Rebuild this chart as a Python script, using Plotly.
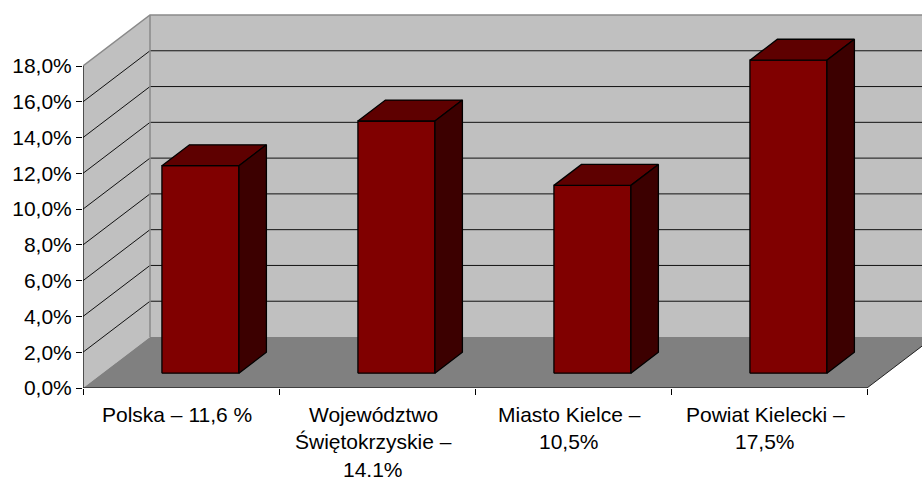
import plotly.graph_objects as go

# ---- data ----
category_lines = [
    ["Polska – 11,6 %"],
    ["Województwo", "Świętokrzyskie –", "14.1%"],
    ["Miasto Kielce –", "10,5%"],
    ["Powiat Kielecki –", "17,5%"],
]
values = [11.6, 14.1, 10.5, 17.5]
y_ticks = [0, 2, 4, 6, 8, 10, 12, 14, 16, 18]
y_tick_labels = ["0,0%", "2,0%", "4,0%", "6,0%", "8,0%", "10,0%", "12,0%", "14,0%", "16,0%", "18,0%"]

# ---- pseudo-3D geometry (in axis units) ----
N = len(values)
YMAX = 18
PX_PER_CAT = 196.0
PX_PER_PCT = 17.889
DX = 67 / PX_PER_CAT        # depth shift in category units
DY = 51 / PX_PER_PCT        # depth shift in percent units
F0, F1 = 0.29, 0.70         # bar front / back depth fractions
HW = 77 / PX_PER_CAT / 2    # bar half-width

WALL = "#C0C0C0"
FLOOR = "#808080"
FRONT = "#800000"
TOP = "#5E0000"
SIDE = "#3C0000"


def P(x, v, d):
    return x + d * DX, v + d * DY


fig = go.Figure()


def poly(pts, fill, lc="black", lw=1.0):
    xs = [p[0] for p in pts] + [pts[0][0]]
    ys = [p[1] for p in pts] + [pts[0][1]]
    fig.add_trace(go.Scatter(x=xs, y=ys, mode="lines", fill="toself",
                             fillcolor=fill, line=dict(color=lc, width=lw),
                             hoverinfo="skip", showlegend=False))


def seg(pts, lc="black", lw=1.0):
    fig.add_trace(go.Scatter(x=[p[0] for p in pts], y=[p[1] for p in pts],
                             mode="lines", line=dict(color=lc, width=lw),
                             hoverinfo="skip", showlegend=False))


# walls
poly([P(0, 0, 1), P(N, 0, 1), P(N, YMAX, 1), P(0, YMAX, 1)], WALL, lc="rgba(0,0,0,0)", lw=0)
poly([P(0, 0, 0), P(0, 0, 1), P(0, YMAX, 1), P(0, YMAX, 0)], WALL, lc="rgba(0,0,0,0)", lw=0)

# gridlines
for t in y_ticks[1:-1]:
    seg([P(0, t, 0), P(0, t, 1), P(N, t, 1)], lc="#111111", lw=1)

# wall edges
seg([P(0, YMAX, 0), P(0, YMAX, 1), P(N, YMAX, 1)], lc="#8a8a8a", lw=1.5)
seg([P(0, 0, 1), P(0, YMAX, 1)], lc="#8a8a8a", lw=1.5)

# floor
poly([P(0, 0, 0), P(N, 0, 0), P(N, 0, 1), P(0, 0, 1)], FLOOR, lc="rgba(0,0,0,0)", lw=0)
seg([P(N, 0, 0), P(N, 0, 1)], lc="#222222", lw=1)
seg([P(0, 0, 0), P(0, YMAX, 0)], lc="black", lw=1.2)
seg([P(0, 0, 0), P(N, 0, 0)], lc="black", lw=1.2)

# bars
for i, v in enumerate(values):
    c = i + 0.5
    l, r = c - HW, c + HW
    poly([P(l, 0, F0), P(r, 0, F0), P(r, v, F0), P(l, v, F0)], FRONT, lw=1.3)
    poly([P(l, v, F0), P(r, v, F0), P(r, v, F1), P(l, v, F1)], TOP, lw=1.3)
    poly([P(r, 0, F0), P(r, 0, F1), P(r, v, F1), P(r, v, F0)], SIDE, lw=1.3)

# category labels
FONT = dict(family="Liberation Sans, Arial, sans-serif", size=21, color="black")
for i, lines in enumerate(category_lines):
    for j, txt in enumerate(lines):
        fig.add_annotation(x=i + 0.5, y=0, xref="x", yref="y", text=txt,
                           showarrow=False, xanchor="center", yanchor="middle",
                           xshift=-4, yshift=-26 - 27.5 * j, font=FONT)

W, H = 922, 478
ML, MB = 83, 90
plot_w = W - ML
plot_h = H - MB

fig.update_layout(
    width=W, height=H,
    margin=dict(l=ML, r=0, t=0, b=MB, autoexpand=False),
    paper_bgcolor="white", plot_bgcolor="white",
    showlegend=False,
    xaxis=dict(range=[0, plot_w / PX_PER_CAT], tickvals=list(range(N + 1)),
               showticklabels=False, ticks="outside", ticklen=6, tickcolor="black",
               showgrid=False, zeroline=False, showline=False, fixedrange=True,
               automargin=False),
    yaxis=dict(range=[0, plot_h / PX_PER_PCT], tickvals=y_ticks, ticktext=y_tick_labels,
               ticks="outside", ticklen=6, tickcolor="black", tickfont=FONT,
               showgrid=False, zeroline=False, showline=False, fixedrange=True,
               automargin=False),
)

fig.write_html(
    "out.html",
    config={"displayModeBar": False},
    post_script="document.body.style.margin='0';document.body.style.overflow='hidden';",
)
